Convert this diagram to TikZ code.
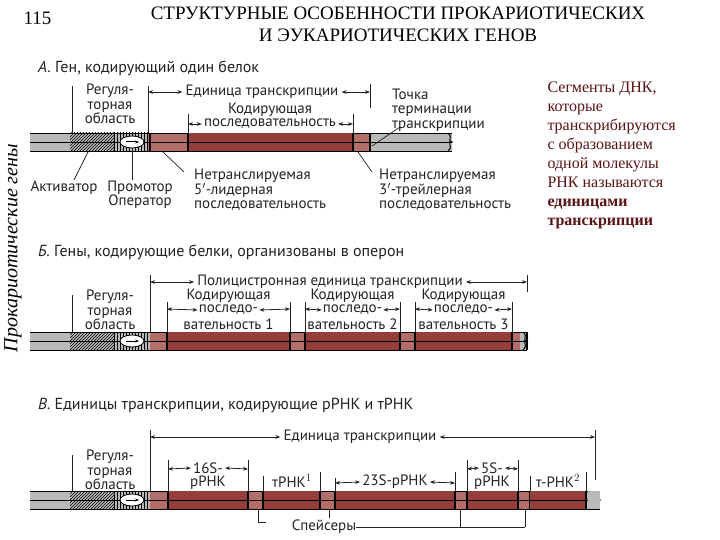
\documentclass[tikz,border=0pt]{standalone}
\usepackage{fontspec}
\setmainfont{Liberation Serif}
\newfontfamily\lab{PT Sans}
\usetikzlibrary{patterns,arrows.meta}
\definecolor{gbar}{RGB}{185,185,185}
\definecolor{rbar}{RGB}{150,62,58}
\definecolor{lrbar}{RGB}{180,110,105}
\definecolor{ink}{RGB}{35,35,35}
\definecolor{note}{RGB}{90,20,20}
\tikzset{
 lb/.style={font=\lab\fontsize{15}{14.5}\selectfont,text=ink,inner sep=0pt,align=center},
 hd/.style={font=\lab\fontsize{16}{16}\selectfont,text=ink,inner sep=0pt,anchor=west},
 tk/.style={draw=ink,line width=0.8pt},
 dim/.style={draw=ink,line width=0.8pt,{Stealth[length=5pt]}-{Stealth[length=5pt]}},
 ptr/.style={draw=ink,line width=0.7pt},
 mk/.style={draw=black,line width=1.6pt},
}
\newcommand\dnabar[4]{% y, xend, redstart, redend
 \fill[gbar] (30,#1-9) rectangle (#2,#1+9);
 \fill[pattern=north east lines,pattern color=black] (70,#1-9) rectangle (114,#1+9);
 \fill[pattern=vertical lines,pattern color=black] (114,#1-9) rectangle (150,#1+9);
 \fill[lrbar] (#3,#1-9) rectangle (#4,#1+9);
 \draw[black,line width=0.8pt] (30,#1) -- (#2,#1);
 \draw[black,line width=0.6pt] (30,#1-9) -- (#2,#1-9) (30,#1+9) -- (#2,#1+9);
 \draw[fill=white,line width=0.8pt] (132,#1) ellipse (12 and 6);
 \draw[-{Stealth[length=4pt]},line width=1pt] (126,#1) -- (139,#1);
 \draw[line width=1pt] (#2-4,#1-9) .. controls (#2+2,#1-4) and (#2-6,#1) .. (#2,#1) .. controls (#2-6,#1) and (#2+2,#1+4) .. (#2-4,#1+9);
}
\newcommand\seg[3]{\fill[rbar] (#1,#3-9) rectangle (#2,#3+9); \draw[black,line width=0.8pt] (#1,#3) -- (#2,#3); \draw[mk] (#1,#3-9)--(#1,#3+9) (#2,#3-9)--(#2,#3+9);}
\begin{document}
\begin{tikzpicture}[x=1pt,y=-1pt]
\useasboundingbox (0,0) rectangle (720,540);
\fill[white] (0,0) rectangle (720,540);
% title
\node[font=\fontsize{19}{19}\selectfont,anchor=west] (num) at (20,18) {115};
\node[font=\fontsize{19}{22}\selectfont,align=center] (title) at (398,24) {СТРУКТУРНЫЕ ОСОБЕННОСТИ ПРОКАРИОТИЧЕСКИХ\\И ЭУКАРИОТИЧЕСКИХ ГЕНОВ};
\node[font=\itshape\fontsize{20}{20}\selectfont,rotate=90] (side) at (13,248) {Прокариотические гены};
\node[font=\fontsize{16}{19}\selectfont,text=note,align=left,anchor=north west] (txt) at (544,78) {Сегменты ДНК,\\которые\\транскрибируются\\с образованием\\одной молекулы\\РНК называются\\\textbf{единицами}\\\textbf{транскрипции}};

% ===== A =====
\node[hd] (ha) at (38,68) {\textit{А.} Ген, кодирующий один белок};
\dnabar{142}{452}{148}{370}
\fill[rbar] (188,133) rectangle (353,151);
\draw[black,line width=0.8pt] (148,142)--(370,142);
\draw[mk] (188,133)--(188,151) (353,133)--(353,151) (370,133)--(370,151) (150,133)--(150,151);
\draw[tk] (72,86)--(72,133) (148,86)--(148,133) (370,84)--(370,108) (188,114)--(188,133) (353,114)--(353,133);
\node[lb] (regA) at (110,104) {Регуля-\\торная\\область};
\node[lb,fill=white,inner xsep=3pt] (euA) at (262,92) {Единица транскрипции};
\draw[dim] (148,92) -- (euA.west); \draw[dim] (euA.east) -- (370,92);
\node[lb] (kA1) at (270,110) {Кодирующая};
\node[lb,fill=white,inner xsep=2pt] (kA2) at (270,124) {последовательность};
\draw[dim] (188,124) -- (kA2.west); \draw[dim] (kA2.east) -- (353,124);
\node[lb,align=left,anchor=west] (term) at (392,110) {Точка\\терминации\\транскрипции};
\draw[ptr] (400,127) -- (372,146);
\node[lb] (act) at (64,188) {Активатор};
\node[lb] (prom) at (140,195) {Промотор\\Оператор};
\draw[ptr] (88,152) -- (74,180);
\draw[ptr] (132,148) -- (132,180);
\node[lb,align=left,anchor=west] (u5) at (194,190) {Нетранслируемая\\5$'$-лидерная\\последовательность};
\draw[ptr] (163,152) -- (184,172);
\node[lb,align=left,anchor=west] (u3) at (379,190) {Нетранслируемая\\3$'$-трейлерная\\последовательность};
\draw[ptr] (358,152) -- (372,172);

% ===== B =====
\node[hd] (hb) at (38,252) {\textit{Б.} Гены, кодирующие белки, организованы в оперон};
\dnabar{341}{527}{150}{520}
\seg{167}{290}{341}\seg{305}{400}{341}\seg{415}{512}{341}
\draw[mk] (527,332)--(527,350);
\draw[tk] (72,295)--(72,332) (150,275)--(150,332) (527,275)--(527,292);
\node[lb,fill=white,inner xsep=3pt] (pol) at (330,282) {Полицистронная единица транскрипции};
\draw[dim] (150,282) -- (pol.west); \draw[dim] (pol.east) -- (527,282);
\node[lb] (regB) at (110,310) {Регуля-\\торная\\область};
\foreach \a/\b/\n [count=\i] in {167/290/1,305/400/2,415/512/3}{
 \draw[tk] (\a,302)--(\a,332) (\b,302)--(\b,332);
 \node[lb] (kb\i) at ({(\a+\b)/2},296) {Кодирующая};
 \node[lb,fill=white,inner xsep=1pt] (pb\i) at ({(\a+\b)/2},310) {последо-};
 \node[lb] (vb\i) at ({(\a+\b)/2},324) {вательность \n};
 \draw[dim] (\a,309) -- (pb\i.west); \draw[dim] (pb\i.east) -- (\b,309);
}

% ===== V =====
\node[hd] (hv) at (38,405) {\textit{В.} Единицы транскрипции, кодирующие рРНК и тРНК};
\dnabar{500}{600}{150}{572}
\seg{168}{248}{500}\seg{263}{320}{500}\seg{335}{455}{500}\seg{467}{518}{500}\seg{530}{572}{500}
\fill[rbar] (530,491) rectangle (586,509);\draw[black,line width=0.8pt] (530,500)--(586,500);\draw[mk] (586,491)--(586,509);
\fill[gbar] (588,491) rectangle (600,509);
\draw[tk] (72,455)--(72,491) (150,430)--(150,491) (595,430)--(595,480);
\node[lb,fill=white,inner xsep=3pt] (euV) at (360,437) {Единица транскрипции};
\draw[dim] (150,437) -- (euV.west); \draw[dim] (euV.east) -- (595,437);
\node[lb] (regV) at (110,470) {Регуля-\\торная\\область};
\draw[tk] (168,460)--(168,491) (248,460)--(248,491);
\node[lb,fill=white,inner xsep=2pt] (s16) at (208,468) {16S-};
\node[lb] (r16) at (208,483) {рРНК};
\draw[dim] (168,469) -- (s16.west); \draw[dim] (s16.east) -- (248,469);
\draw[tk] (263,476)--(263,491) (320,472)--(320,491);
\node[lb] (t1) at (292,481) {тРНК$^1$};
\draw[tk] (335,478)--(335,491) (455,472)--(455,491);
\node[lb,fill=white,inner xsep=2pt] (s23) at (395,482) {23S-рРНК};
\draw[dim] (335,483) -- (s23.west); \draw[dim] (s23.east) -- (455,483);
\draw[tk] (467,460)--(467,491) (518,460)--(518,491);
\node[lb,fill=white,inner xsep=2pt] (s5) at (492,468) {5S-};
\node[lb] (r5) at (492,483) {рРНК};
\draw[dim] (467,469) -- (s5.west); \draw[dim] (s5.east) -- (518,469);
\draw[tk] (530,476)--(530,491) (586,472)--(586,491);
\node[lb] (t2) at (558,481) {т-РНК$^2$};
\node[lb] (sp) at (324,527) {Спейсеры};
\draw[tk] (258,509)--(258,522)--(266,522);
\draw[tk] (329,509)--(329,518);
\draw[tk] (sp.east) -- (525,527);
\draw[tk] (460,509)--(460,527) (525,509)--(525,527);
\end{tikzpicture}
\end{document}
